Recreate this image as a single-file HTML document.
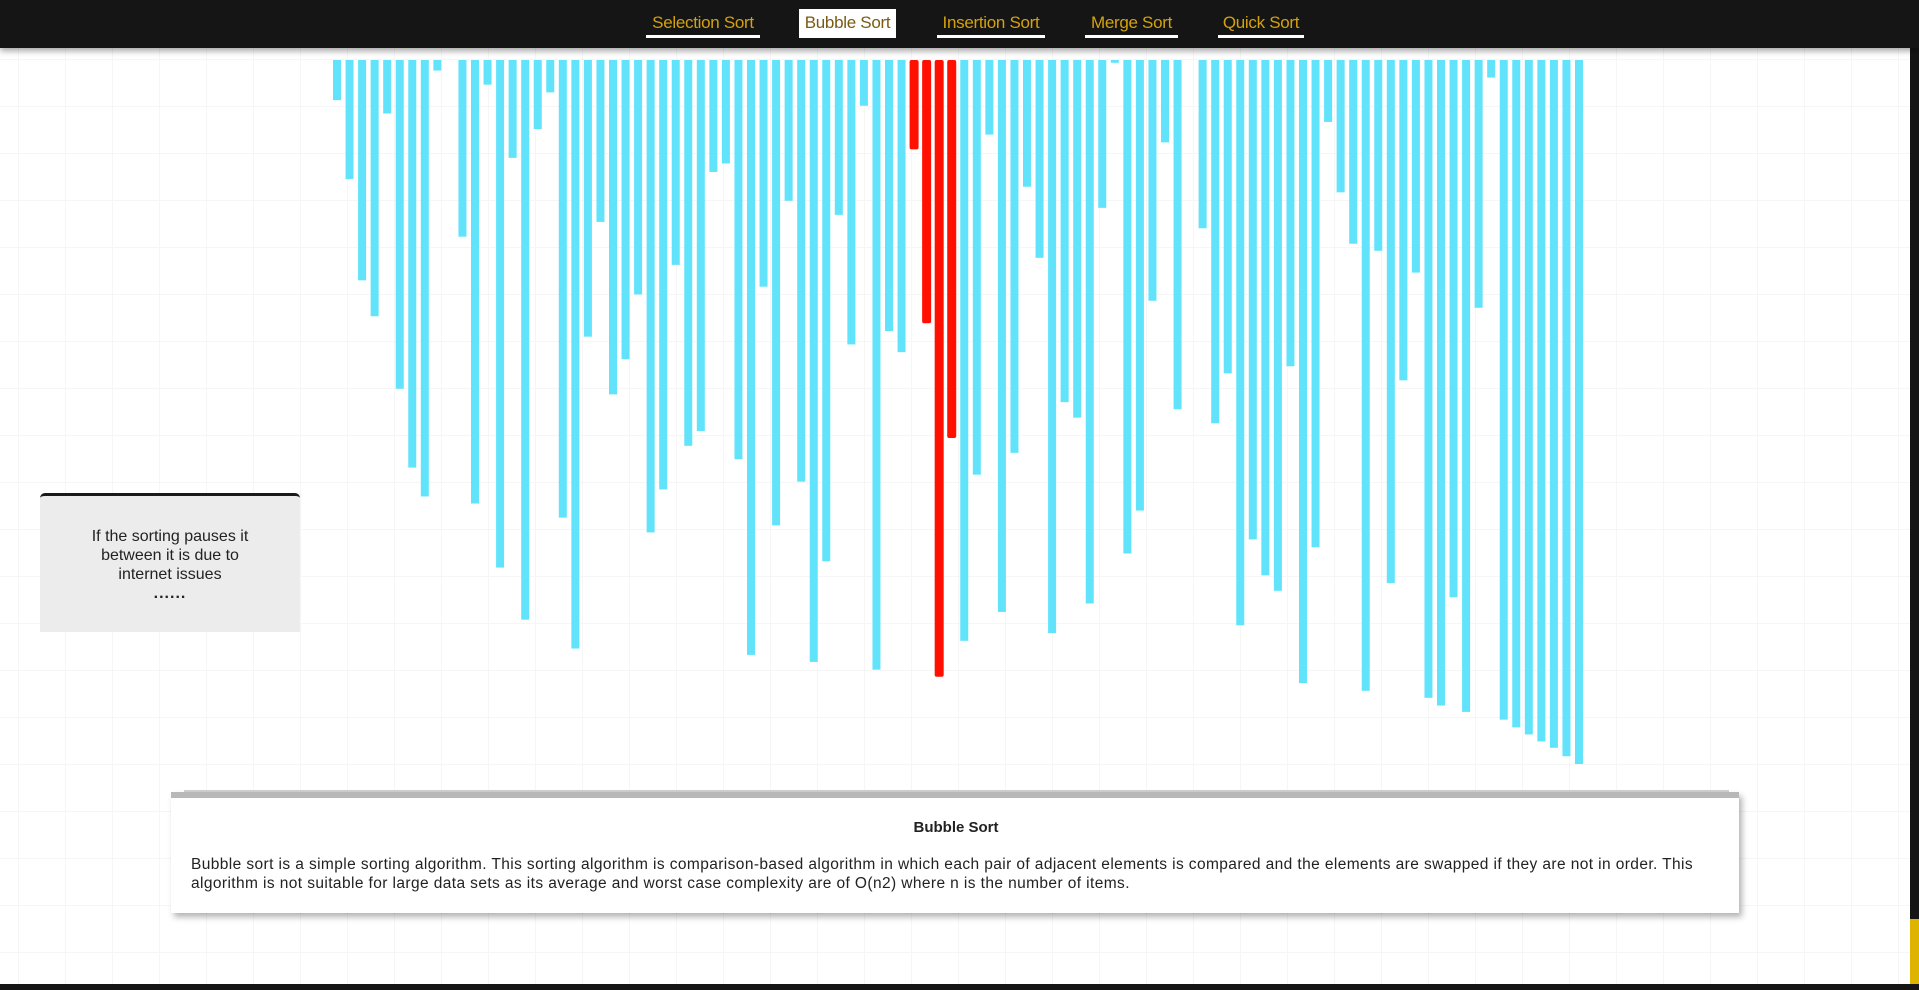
<!DOCTYPE html>
<html><head><meta charset="utf-8">
<style>
html,body{margin:0;padding:0;width:1919px;height:990px;overflow:hidden;font-family:"Liberation Sans",sans-serif;}
body{background:#fff;position:relative;
background-image:linear-gradient(#f6f6f6 1px,transparent 1px),linear-gradient(90deg,#f6f6f6 1px,transparent 1px);
background-size:47px 47px;background-position:18px 12px;}
#nav{position:absolute;left:0;top:0;width:1919px;height:48px;background:#151515;box-shadow:0 3px 6px rgba(0,0,0,.35);z-index:3}
.nav-item{position:absolute;top:9px;height:29px;line-height:27px;font-size:17px;color:#d4a10f;text-align:center;box-sizing:border-box;border-bottom:3px solid #fff;letter-spacing:-0.3px}
.nav-item.active{background:#fff;color:#7a5a10;border-bottom:none}
#chart{position:absolute;left:0;top:0;z-index:1}
#info{position:absolute;left:40px;top:493px;width:260px;height:139px;background:#ececec;border-top:3px solid #1a1a1a;border-radius:5px 5px 0 0;box-sizing:border-box;text-align:center;font-size:16px;color:#222;padding-top:31px;line-height:19px}
#desc{position:absolute;left:171px;top:792px;width:1568px;height:121px;background:#fff;border-top:6px solid #b8b8b8;box-sizing:border-box;box-shadow:3px 4px 6px rgba(0,0,0,.3);padding:20px 18px 0 20px;font-size:15.5px;color:#222;line-height:19px;letter-spacing:0.4px}
#desc h3{margin:0 0 18px 0;font-size:15px;text-align:center;font-weight:bold;letter-spacing:0}
#desc p{margin:0}
#sb{position:absolute;left:1910px;top:48px;width:9px;height:942px;background:#151515}
#thumb{position:absolute;left:1910px;top:919px;width:9px;height:65px;background:#dfb400}
#bottom{position:absolute;left:0;top:984px;width:1919px;height:6px;background:#151515}
#axis{position:absolute;left:184px;top:790px;width:1545px;height:2px;background:#d0d0d0}
</style></head><body>
<div id="nav">
<div class="nav-item" style="left:646px;width:114px">Selection Sort</div>
<div class="nav-item active" style="left:799px;width:97px">Bubble Sort</div>
<div class="nav-item" style="left:937px;width:108px">Insertion Sort</div>
<div class="nav-item" style="left:1085px;width:93px">Merge Sort</div>
<div class="nav-item" style="left:1218px;width:86px">Quick Sort</div>
</div>
<div id="axis"></div>
<svg id="chart" width="1919" height="990"></svg>
<div id="info">If the sorting pauses it<br>between it is due to<br>internet issues<br><b style="letter-spacing:1px">......</b></div>
<div id="desc">
<h3>Bubble Sort</h3>
<p>Bubble sort is a simple sorting algorithm. This sorting algorithm is comparison-based algorithm in which each pair of adjacent elements is compared and the elements are swapped if they are not in order. This algorithm is not suitable for large data sets as its average and worst case complexity are of O(n2) where n is the number of items.</p>
</div>
<div id="sb"></div>
<div id="thumb"></div>
<div id="bottom"></div>
<script>
const values=[5.7,16.9,31.3,36.4,7.6,46.7,57.9,62.0,1.5,0,25.1,63.0,3.5,72.1,13.9,79.5,9.8,4.6,65.0,83.6,
39.3,23.0,47.5,42.5,33.3,67.1,61.0,29.1,54.8,52.7,15.9,14.7,56.7,84.5,32.2,66.1,20.0,59.9,85.5,71.2,
22.0,40.4,6.5,86.6,38.5,41.5,12.7,37.4,87.6,53.7,82.5,58.9,10.6,78.4,55.8,18.0,28.1,81.4,48.6,50.8,
77.2,21.0,0.4,70.1,64.0,34.2,11.7,49.6,0,23.9,51.6,44.5,80.3,68.1,73.2,75.4,43.5,88.5,69.2,8.8,
18.8,26.1,89.6,27.1,74.3,45.5,30.2,90.6,91.7,76.3,92.6,35.2,2.5,93.7,94.8,95.8,96.8,97.7,98.9,100];
const highlighted=[46,47,48,49];
const maxValue=100;
const svg=document.getElementById('chart');
const NS='http://www.w3.org/2000/svg';
const x0=337,x1=1579,top0=60,fullLen=704;
function xScale(i){return x0+i*(x1-x0)/(values.length-1);}
function yLen(v){return v/maxValue*fullLen;}
values.forEach((v,i)=>{
  if(v<=0)return;
  const r=document.createElementNS(NS,'rect');
  const red=highlighted.includes(i);
  const w=red?9:8;
  r.setAttribute('x',xScale(i)-w/2);
  r.setAttribute('y',top0);
  r.setAttribute('width',w);
  r.setAttribute('height',Math.max(yLen(v),2));
  r.setAttribute('fill',red?'#ff1000':'#62e3fc');
  if(red){r.setAttribute('rx',2);}
  
  
  svg.appendChild(r);
});
</script>
</body></html>
